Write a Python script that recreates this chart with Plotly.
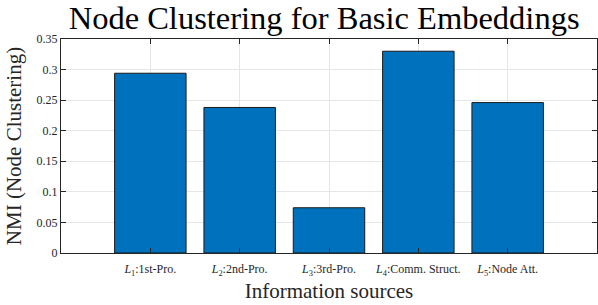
import plotly.graph_objects as go

categories = ["<i>L</i><sub>1</sub>:1st-Pro.", "<i>L</i><sub>2</sub>:2nd-Pro.", "<i>L</i><sub>3</sub>:3rd-Pro.",
              "<i>L</i><sub>4</sub>:Comm. Struct.", "<i>L</i><sub>5</sub>:Node Att."]
positions = [1, 2, 3, 4, 5]
nmi_values = [0.294, 0.238, 0.074, 0.330, 0.246]
y_ticks = [0, 0.05, 0.1, 0.15, 0.2, 0.25, 0.3, 0.35]
y_tick_labels = ["0", "0.05", "0.1", "0.15", "0.2", "0.25", "0.3", "0.35"]

font_family = "Liberation Serif"

fig = go.Figure(go.Bar(
    x=positions, y=nmi_values, width=0.8,
    marker=dict(color="#0072BD", line=dict(color="#1a1a1a", width=1)),
))

fig.update_layout(
    width=598, height=305,
    margin=dict(l=61, r=1, t=39, b=52),
    paper_bgcolor="white", plot_bgcolor="white",
    showlegend=False,
    font=dict(family=font_family, color="#262626"),
    title=dict(text="Node Clustering for Basic Embeddings", x=0.542, xanchor="center",
               yref="container", y=0.905, yanchor="bottom",
               font=dict(size=32.5, color="black", family=font_family)),
)
fig.update_xaxes(
    range=[0, 6], tickvals=positions, ticktext=categories,
    tickfont=dict(size=12, color="#262626", family=font_family),
    ticklabelstandoff=5,
    showline=True, linecolor="#262626", linewidth=1, mirror="allticks",
    ticks="inside", ticklen=5, tickcolor="#262626",
    showgrid=True, gridcolor="#e6e6e6", gridwidth=1, zeroline=False,
    automargin=False,
    title=dict(text="Information sources", font=dict(size=21, color="#262626", family=font_family), standoff=6),
)
fig.update_yaxes(
    range=[0, 0.35], tickvals=y_ticks, ticktext=y_tick_labels,
    tickfont=dict(size=12, color="#262626", family=font_family),
    showline=True, linecolor="#262626", linewidth=1, mirror="allticks",
    ticks="inside", ticklen=5, tickcolor="#262626",
    showgrid=True, gridcolor="#e6e6e6", gridwidth=1, zeroline=False,
    automargin=False,
    title=dict(text="NMI (Node Clustering)", font=dict(size=21, color="#262626", family=font_family), standoff=9),
)

fig.write_html("out.html", config={"displayModeBar": False},
               post_script="document.body.style.margin='0';")
